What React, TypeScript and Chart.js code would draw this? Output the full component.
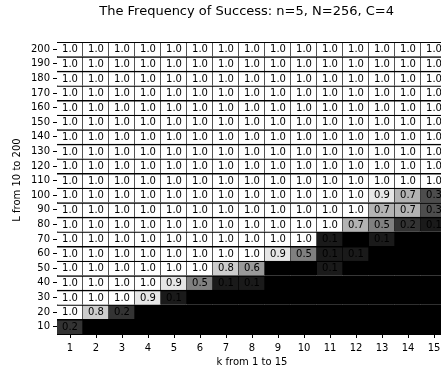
import React, { useEffect, useRef } from "react";
import { Chart, registerables } from "chart.js";

Chart.register(...registerables);

const kValues = [1, 2, 3, 4, 5, 6, 7, 8, 9, 10, 11, 12, 13, 14, 15];
const lValues = [10, 20, 30, 40, 50, 60, 70, 80, 90, 100, 110, 120, 130, 140, 150, 160, 170, 180, 190, 200];

// success frequency per L row (L=10 first), one value per k
const successRates: number[][] = [
  [0.2, 0, 0, 0, 0, 0, 0, 0, 0, 0, 0, 0, 0, 0, 0],
  [1.0, 0.8, 0.2, 0, 0, 0, 0, 0, 0, 0, 0, 0, 0, 0, 0],
  [1.0, 1.0, 1.0, 0.9, 0.1, 0, 0, 0, 0, 0, 0, 0, 0, 0, 0],
  [1.0, 1.0, 1.0, 1.0, 0.9, 0.5, 0.1, 0.1, 0, 0, 0, 0, 0, 0, 0],
  [1.0, 1.0, 1.0, 1.0, 1.0, 1.0, 0.8, 0.6, 0, 0, 0.1, 0, 0, 0, 0],
  [1.0, 1.0, 1.0, 1.0, 1.0, 1.0, 1.0, 1.0, 0.9, 0.5, 0.1, 0.1, 0, 0, 0],
  [1.0, 1.0, 1.0, 1.0, 1.0, 1.0, 1.0, 1.0, 1.0, 1.0, 0.1, 0, 0.1, 0, 0],
  [1.0, 1.0, 1.0, 1.0, 1.0, 1.0, 1.0, 1.0, 1.0, 1.0, 1.0, 0.7, 0.5, 0.2, 0.1],
  [1.0, 1.0, 1.0, 1.0, 1.0, 1.0, 1.0, 1.0, 1.0, 1.0, 1.0, 1.0, 0.7, 0.7, 0.3],
  [1.0, 1.0, 1.0, 1.0, 1.0, 1.0, 1.0, 1.0, 1.0, 1.0, 1.0, 1.0, 0.9, 0.7, 0.3],
  [1.0, 1.0, 1.0, 1.0, 1.0, 1.0, 1.0, 1.0, 1.0, 1.0, 1.0, 1.0, 1.0, 1.0, 1.0],
  [1.0, 1.0, 1.0, 1.0, 1.0, 1.0, 1.0, 1.0, 1.0, 1.0, 1.0, 1.0, 1.0, 1.0, 1.0],
  [1.0, 1.0, 1.0, 1.0, 1.0, 1.0, 1.0, 1.0, 1.0, 1.0, 1.0, 1.0, 1.0, 1.0, 1.0],
  [1.0, 1.0, 1.0, 1.0, 1.0, 1.0, 1.0, 1.0, 1.0, 1.0, 1.0, 1.0, 1.0, 1.0, 1.0],
  [1.0, 1.0, 1.0, 1.0, 1.0, 1.0, 1.0, 1.0, 1.0, 1.0, 1.0, 1.0, 1.0, 1.0, 1.0],
  [1.0, 1.0, 1.0, 1.0, 1.0, 1.0, 1.0, 1.0, 1.0, 1.0, 1.0, 1.0, 1.0, 1.0, 1.0],
  [1.0, 1.0, 1.0, 1.0, 1.0, 1.0, 1.0, 1.0, 1.0, 1.0, 1.0, 1.0, 1.0, 1.0, 1.0],
  [1.0, 1.0, 1.0, 1.0, 1.0, 1.0, 1.0, 1.0, 1.0, 1.0, 1.0, 1.0, 1.0, 1.0, 1.0],
  [1.0, 1.0, 1.0, 1.0, 1.0, 1.0, 1.0, 1.0, 1.0, 1.0, 1.0, 1.0, 1.0, 1.0, 1.0],
  [1.0, 1.0, 1.0, 1.0, 1.0, 1.0, 1.0, 1.0, 1.0, 1.0, 1.0, 1.0, 1.0, 1.0, 1.0],
];

const TITLE = "The Frequency of Success: n=5, N=256, C=4";
const X_TITLE = "k from 1 to 15";
const Y_TITLE = "L from 10 to 200";
const FONT = '"DejaVu Sans", sans-serif';

const gray = (v: number) => {
  const c = Math.round(v * 255);
  return `rgb(${c},${c},${c})`;
};

const cellTextPlugin = {
  id: "cellText",
  afterDatasetsDraw(chart: any) {
    const ctx = chart.ctx;
    ctx.save();
    ctx.font = `10px ${FONT}`;
    ctx.fillStyle = "#000";
    ctx.textAlign = "center";
    ctx.textBaseline = "middle";
    chart.data.datasets.forEach((ds: any, di: number) => {
      const meta = chart.getDatasetMeta(di);
      meta.data.forEach((el: any, i: number) => {
        const v = ds.rates[i];
        if (v > 0) {
          ctx.fillText(v.toFixed(1), el.x, (el.y + el.base) / 2 + 0.5);
        }
      });
    });
    ctx.restore();
  },
  afterDraw(chart: any) {
    const ctx = chart.ctx;
    const area = chart.chartArea;
    ctx.save();
    ctx.fillStyle = "#000";
    ctx.textAlign = "center";
    ctx.textBaseline = "middle";
    ctx.font = `13px ${FONT}`;
    ctx.fillText(TITLE, 246.6, 12);
    ctx.font = `10px ${FONT}`;
    ctx.fillText(X_TITLE, (area.left + area.right) / 2, 362);
    ctx.translate(17, 180);
    ctx.rotate(-Math.PI / 2);
    ctx.fillText(Y_TITLE, 0, 0);
    ctx.restore();
  },
};

export default function App() {
  const ref = useRef<HTMLCanvasElement | null>(null);
  useEffect(() => {
    if (!ref.current) return;
    const datasets = lValues.map((L, r) => ({
      label: `L=${L}`,
      data: kValues.map(() => [L - 5, L + 5]),
      rates: successRates[r],
      backgroundColor: successRates[r].map(gray),
      borderColor: "#000",
      borderWidth: { top: 1.4, right: 1, left: 0, bottom: 0 },
      borderSkipped: false,
      barPercentage: 1,
      categoryPercentage: 1,
    }));
    const chart = new Chart(ref.current, {
      type: "bar",
      data: { labels: kValues.map(String), datasets: datasets as any },
      options: {
        animation: false,
        responsive: false,
        devicePixelRatio: 1,
        layout: { padding: { top: 42, left: 17, right: 0, bottom: 0 } },
        plugins: { legend: { display: false }, tooltip: { enabled: false }, title: { display: false } },
        scales: {
          x: {
            stacked: true,
            offset: true,
            grid: { offset: false, drawOnChartArea: false, drawTicks: true, tickLength: 4, color: "#000", tickColor: "#000" },
            border: { display: true, color: "#000", width: 1 },
            ticks: { color: "#000", font: { family: FONT, size: 10 }, padding: 4, maxRotation: 0, autoSkip: false },
            afterFit: (s: any) => { s.height = 41; },
          },
          y: {
            type: "linear",
            min: 5,
            max: 205,
            grid: { drawOnChartArea: false, drawTicks: true, tickLength: 4, color: "#000", tickColor: "#000" },
            border: { display: true, color: "#000", width: 1 },
            ticks: { color: "#000", font: { family: FONT, size: 10 }, padding: 3, autoSkip: false },
            afterBuildTicks: (s: any) => { s.ticks = lValues.map((v) => ({ value: v })); },
            afterFit: (s: any) => { s.width = 40; },
          },
        },
      } as any,
      plugins: [cellTextPlugin],
    });
    return () => chart.destroy();
  }, []);
  return (
    <div style={{ position: "absolute", left: 0, top: 0, width: 441, height: 375, overflow: "hidden", background: "#fff" }}>
      <canvas ref={ref} width={447} height={375} style={{ display: "block" }} />
    </div>
  );
}
